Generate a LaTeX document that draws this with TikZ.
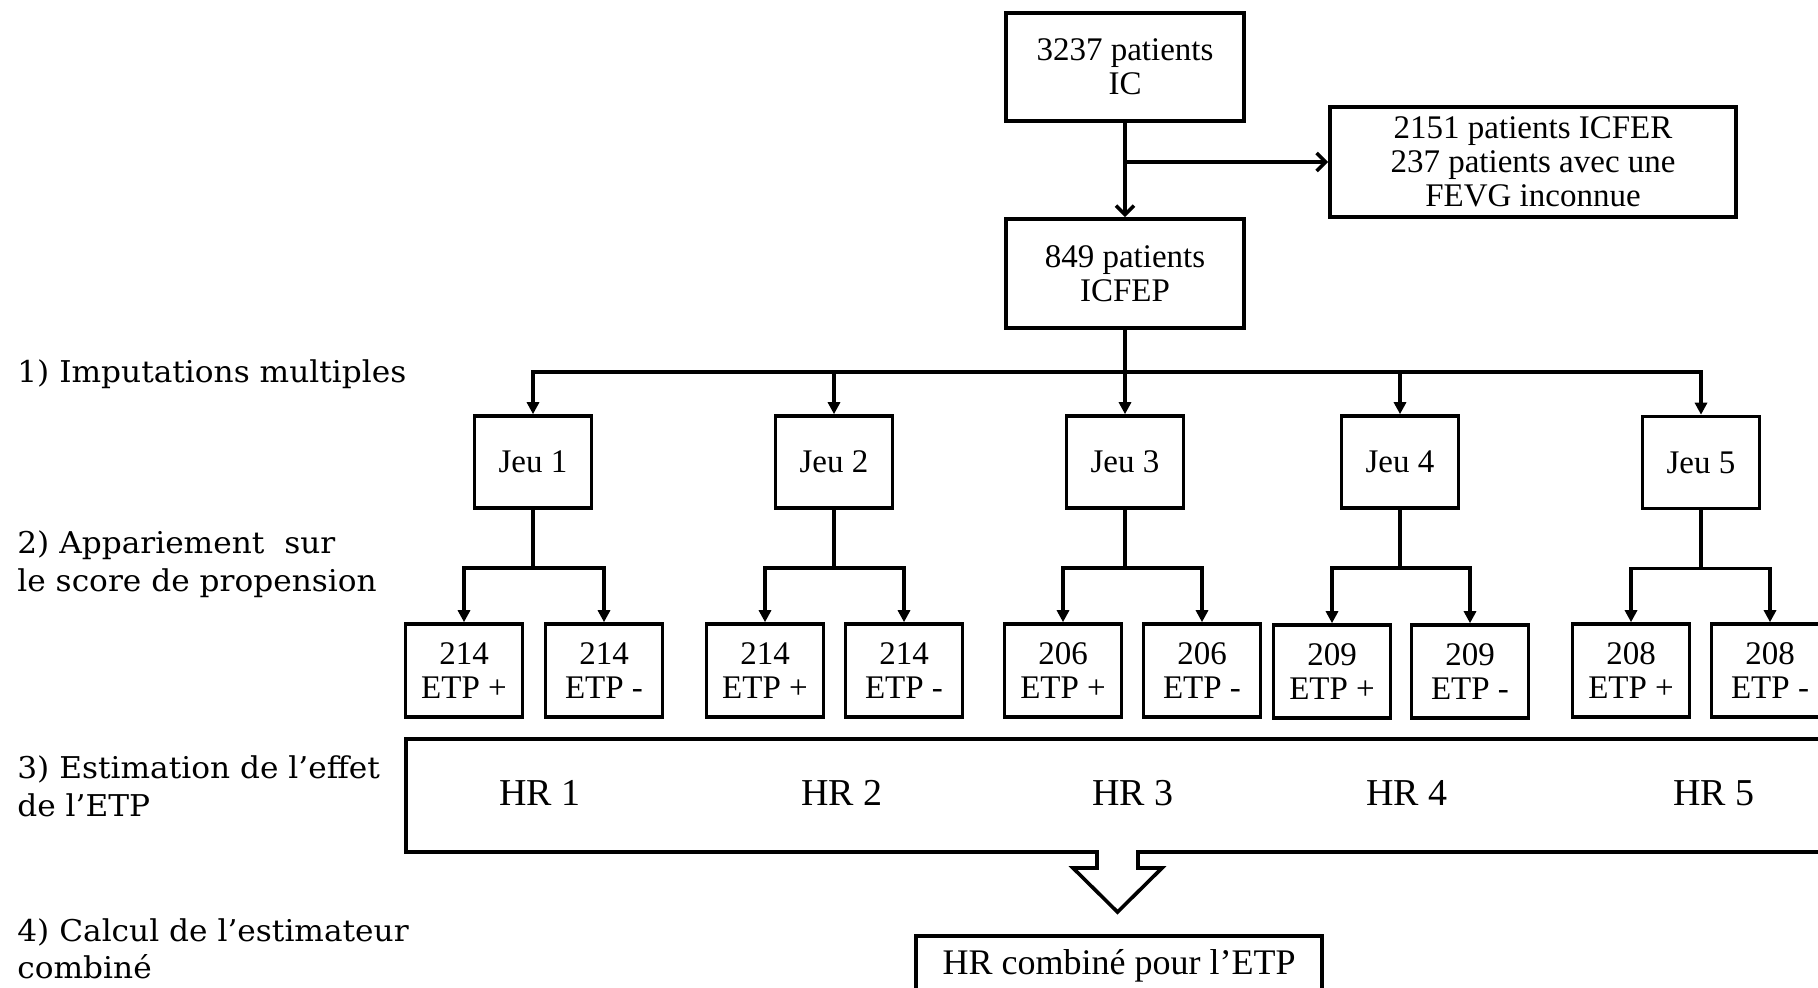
\documentclass[tikz,border=0pt]{standalone}
\usepackage{fontspec}
\setmainfont{Liberation Serif}
\newfontfamily\labfont[FakeStretch=1.04]{DejaVu Serif}
\usetikzlibrary{arrows.meta}
\begin{document}
\begin{tikzpicture}[x=0.5pt,y=-0.5pt,
  box/.style={draw, line width=1.8pt, inner sep=0pt, align=center, font=\fontsize{16.5}{17}\selectfont},
  jeubox/.style={box, minimum width=58.5pt, minimum height=46pt},
  etpbox/.style={box, minimum width=58.5pt, minimum height=46.5pt},
  conn/.style={line width=1.8pt},
  tri/.style={conn, -{Triangle[length=6pt,width=6pt]}},
  barb/.style={conn, -{Straight Barb[length=4.5pt,width=9pt,line width=1.8pt]}},
  lab/.style={anchor=base west, inner sep=0pt, font=\labfont\fontsize{15}{16}\selectfont},
  hr/.style={anchor=base, inner sep=0pt, font=\fontsize{19}{22}\selectfont}]

\useasboundingbox (0,0) rectangle (1818,987);
\clip (0,0) rectangle (1818,987);

% top part
\node[box, minimum width=119pt, minimum height=54pt] (ic) at (1125,67) {3237 patients\\IC};
\node[box, minimum width=203pt, minimum height=55pt] (excl) at (1533,162) {2151 patients ICFER\\237 patients avec une\\FEVG inconnue};
\node[box, minimum width=119pt, minimum height=54.5pt] (icfep) at (1125,273.5) {849 patients\\ICFEP};

\draw[barb] (ic.south) -- (icfep.north);
\draw[barb] (ic.south |- excl.west) -- (excl.west);

% Jeu boxes
\node[jeubox] (j1) at (533,462) {Jeu 1};
\node[jeubox] (j2) at (834,462) {Jeu 2};
\node[jeubox] (j3) at (1125,462) {Jeu 3};
\node[jeubox] (j4) at (1400,462) {Jeu 4};
\node[jeubox] (j5) at (1701,462.5) {Jeu 5};

\coordinate (bus) at (1125,372);
\draw[tri] (icfep.south) -- (j3.north);
\draw[tri] (bus) -| (j1.north);
\draw[tri] (bus) -| (j5.north);
\draw[tri] (j2.north |- bus) -- (j2.north);
\draw[tri] (j4.north |- bus) -- (j4.north);

% ETP boxes
\node[etpbox] (e1p) at (464,670.5) {214\\ETP +};
\node[etpbox] (e1m) at (604,670.5) {214\\ETP -};
\node[etpbox] (e2p) at (765,670.5) {214\\ETP +};
\node[etpbox] (e2m) at (904,670.5) {214\\ETP -};
\node[etpbox] (e3p) at (1063,670.5) {206\\ETP +};
\node[etpbox] (e3m) at (1202,670.5) {206\\ETP -};
\node[etpbox] (e4p) at (1332,671.5) {209\\ETP +};
\node[etpbox] (e4m) at (1470,671.5) {209\\ETP -};
\node[etpbox] (e5p) at (1631,670.5) {208\\ETP +};
\node[etpbox] (e5m) at (1770,670.5) {208\\ETP -};

\foreach \j in {1,...,5}{
  \draw[tri] (j\j.south) -- ++(0,58) -| (e\j p.north);
  \draw[tri] (j\j.south) -- ++(0,58) -| (e\j m.north);
}

% HR box with notch arrow
\draw[conn, line join=miter] (1840,739) -- (406,739) -- (406,852) -- (1097,852) -- (1097,868)
  -- (1073,868) -- (1117.5,912) -- (1162,868) -- (1138,868) -- (1138,852) -- (1840,852);
\node[hr] (hr1) at (540,805) {HR 1};
\node[hr] (hr2) at (842,805) {HR 2};
\node[hr] (hr3) at (1133,805) {HR 3};
\node[hr] (hr4) at (1407,805) {HR 4};
\node[hr] (hr5) at (1714,805) {HR 5};

% final box
\node[box, minimum width=203pt, minimum height=30pt, anchor=north, font=\fontsize{18}{20}\selectfont] (comb) at (1119,934) {HR combiné pour l’ETP};

% left labels
\node[lab] (l1) at (17,382) {1) Imputations multiples};
\node[lab] (l2a) at (17,553) {2) Appariement\ \ sur};
\node[lab] (l2b) at (17,591) {le score de propension};
\node[lab] (l3a) at (17,778) {3) Estimation de l’effet};
\node[lab] (l3b) at (17,816) {de l’ETP};
\node[lab] (l4a) at (17,941) {4) Calcul de l’estimateur};
\node[lab] (l4b) at (17,978) {combiné};
\end{tikzpicture}
\end{document}
